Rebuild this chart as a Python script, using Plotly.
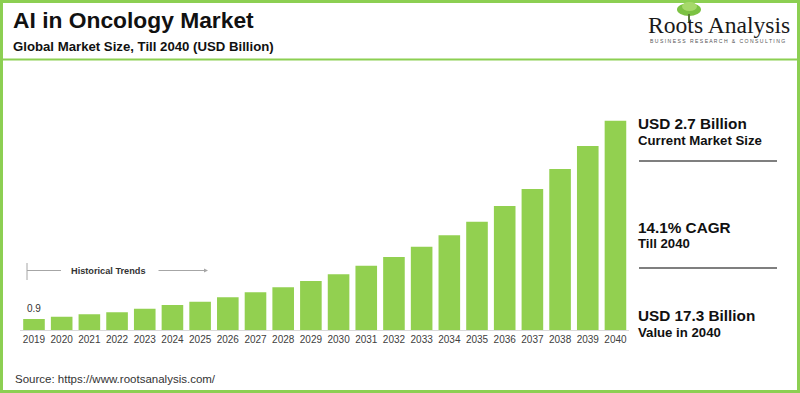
import plotly.graph_objects as go

years = [str(y) for y in range(2019, 2041)]
market_size = [0.9, 1.10, 1.30, 1.46, 1.76, 2.07, 2.34, 2.70, 3.12, 3.53, 4.05,
               4.60, 5.32, 6.03, 6.89, 7.83, 8.95, 10.25, 11.65, 13.31, 15.21, 17.3]
first_label = "0.9"
title = "AI in Oncology Market"
subtitle = "Global Market Size, Till 2040 (USD Billion)"
side_stats = [("USD 2.7 Billion", "Current Market Size"),
              ("14.1% CAGR", "Till 2040"),
              ("USD 17.3 Billion", "Value in 2040")]
source = "Source: https://www.rootsanalysis.com/"

W, H = 800, 393
GREEN = "#92D050"
BORDER = "#8ccf52"


def px(x):
    return x / W


def py(y):
    return 1 - y / H


fig = go.Figure()
fig.add_trace(go.Bar(x=years, y=market_size, marker=dict(color=GREEN, line=dict(width=0)),
                     hoverinfo="x+y"))

base_px, top_px = 330, 110
fig.update_layout(
    width=W, height=H, autosize=False,
    margin=dict(l=0, r=0, t=0, b=0),
    paper_bgcolor="white", plot_bgcolor="white",
    showlegend=False, bargap=0.22,
    font=dict(family="Arial, Liberation Sans, sans-serif", color="#222"),
    xaxis=dict(domain=[20.15 / W, 629.3 / W], type="category", showgrid=False,
               range=[-0.5, len(years) - 0.5],
               showline=True, linecolor="#d9d9d9", linewidth=1, ticks="",
               tickfont=dict(size=10, color="#404040"), fixedrange=True),
    yaxis=dict(domain=[py(base_px), py(top_px)],
               range=[0, 17.3 * (base_px - top_px) / 209.3],
               visible=False, showgrid=False, fixedrange=True),
)

shapes = []
# outer border
shapes.append(dict(type="rect", xref="paper", yref="paper", x0=px(1.5), x1=px(798.5),
                   y0=py(391.5), y1=py(1.5), line=dict(color=BORDER, width=3)))
# header line
shapes.append(dict(type="line", xref="paper", yref="paper", x0=px(3), x1=px(797),
                   y0=py(59.5), y1=py(59.5), line=dict(color=BORDER, width=2)))
# side separators
for yy in (161, 268):
    shapes.append(dict(type="line", xref="paper", yref="paper", x0=px(639), x1=px(777),
                       y0=py(yy), y1=py(yy), line=dict(color="#7f7f7f", width=2)))
# historical trends marker
shapes.append(dict(type="line", xref="paper", yref="paper", x0=px(27), x1=px(27),
                   y0=py(263), y1=py(280), line=dict(color="#a6a6a6", width=1)))
shapes.append(dict(type="line", xref="paper", yref="paper", x0=px(27), x1=px(61),
                   y0=py(270.5), y1=py(270.5), line=dict(color="#a6a6a6", width=1)))
# logo tree
shapes.append(dict(type="circle", xref="paper", yref="paper", x0=px(677), x1=px(701),
                   y0=py(16), y1=py(3), fillcolor="#7cc243", line=dict(width=0)))
shapes.append(dict(type="circle", xref="paper", yref="paper", x0=px(682), x1=px(697),
                   y0=py(11), y1=py(2), fillcolor="#a6d96a", line=dict(width=0)))
shapes.append(dict(type="line", xref="paper", yref="paper", x0=px(689), x1=px(689),
                   y0=py(22), y1=py(14), line=dict(color="#5a7a3a", width=2)))
fig.update_layout(shapes=shapes)

ann = []
ann.append(dict(text="<b>" + title + "</b>", x=px(11), y=py(20), xanchor="left", yanchor="middle",
                font=dict(size=22.8, color="#111")))
ann.append(dict(text="<b>" + subtitle + "</b>", x=px(11), y=py(46), xanchor="left", yanchor="middle",
                font=dict(size=13.2, color="#111")))
ann.append(dict(text="Roots Analysis", x=px(718.5), y=py(25), xanchor="center", yanchor="middle",
                font=dict(size=23.6, color="#1a1a1a", family="Liberation Serif, Times New Roman, serif")))
ann.append(dict(text="B U S I N E S S &nbsp; R E S E A R C H &nbsp; &amp; &nbsp; C O N S U L T I N G",
                x=px(717), y=py(41), xanchor="center", yanchor="middle",
                font=dict(size=5.1, color="#555")))
ys = [(124, 140), (227, 243), (315, 332)]
for (a, b), (ya, yb) in zip(side_stats, ys):
    ann.append(dict(text="<b>" + a + "</b>", x=px(636), y=py(ya), xanchor="left", yanchor="middle",
                    font=dict(size=15.3, color="#111")))
    ann.append(dict(text="<b>" + b + "</b>", x=px(636), y=py(yb), xanchor="left", yanchor="middle",
                    font=dict(size=13.2, color="#111")))
ann.append(dict(text=source, x=px(13), y=py(379), xanchor="left", yanchor="middle",
                font=dict(size=11.5, color="#333")))
ann.append(dict(text=first_label, x=years.index(years[0]), y=market_size[0], xref="x", yref="y",
                yanchor="bottom", xanchor="center", yshift=3, showarrow=False,
                font=dict(size=10, color="#333")))
ann.append(dict(text="<b>Historical Trends</b>", x=px(69), y=py(270.5), xanchor="left", yanchor="middle",
                font=dict(size=9.2, color="#333")))
ann.append(dict(x=px(208), y=py(270.5), ax=-51, ay=0, axref="pixel", ayref="pixel",
                text="", showarrow=True, arrowhead=2,
                arrowsize=0.8, arrowwidth=1, arrowcolor="#a6a6a6"))
for a in ann:
    a.setdefault("xref", "paper")
    a.setdefault("yref", "paper")
    a.setdefault("showarrow", False)
fig.update_layout(annotations=ann)

fig.write_html("out.html", config={"displayModeBar": False},
               post_script="document.body.style.margin='0';document.body.style.padding='0';")
